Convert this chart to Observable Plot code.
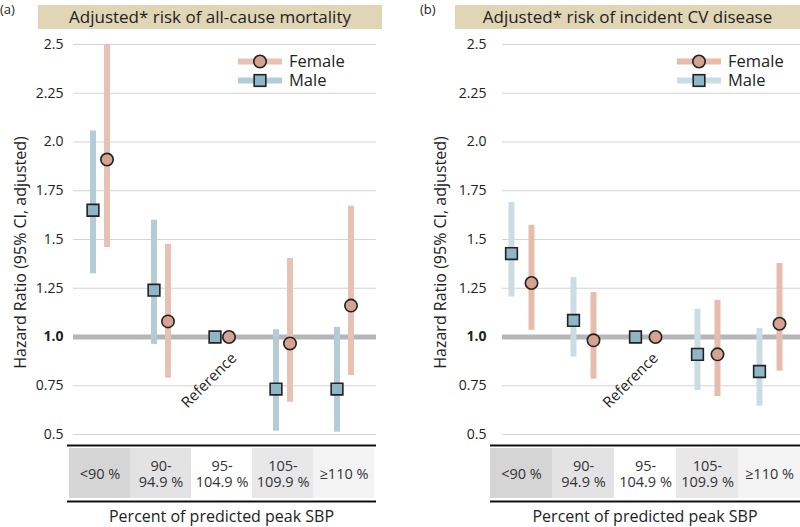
<!DOCTYPE html>
<html>
<head>
<meta charset="utf-8">
<script src="https://cdn.jsdelivr.net/npm/d3@7"></script>
<script src="https://cdn.jsdelivr.net/npm/@observablehq/plot@0.6"></script>
<style>
  html, body { margin: 0; padding: 0; background: #fff; }
  body { width: 800px; height: 527px; position: relative; overflow: hidden; font-family: "Open Sans", "Noto Sans", sans-serif; color: #222; }
  .abs { position: absolute; }
  .panel-tag { font-size: 13px; color: #222; }
  .title { background: #e0d6b6; font-size: 17px; text-align: center; line-height: 24px; height: 24px; color: #222; }
  .xlabel { font-size: 16px; text-align: center; color: #222; }
  .legend { font-size: 16px; }
</style>
</head>
<body>
<script>
// ---------- data ----------
const categories = ["<90", "90-94.9", "95-104.9", "105-109.9", "≥110"];
const categoryLabels = ["<90 %", "90-\n94.9 %", "95-\n104.9 %", "105-\n109.9 %", "≥110 %"];
const yTicks = [0.5, 0.75, 1.0, 1.25, 1.5, 1.75, 2.0, 2.25, 2.5];
const yTickLabels = ["0.5", "0.75", "1.0", "1.25", "1.5", "1.75", "2.0", "2.25", "2.5"];
const referenceCategory = "95-104.9";

// (a) all-cause mortality
const mortMaleHR   = [1.65, 1.24, 1.00, 0.733, 0.733];
const mortMaleLo   = [1.325, 0.962, null, 0.517, 0.512];
const mortMaleHi   = [2.057, 1.599, null, 1.037, 1.049];
const mortFemaleHR = [1.91, 1.08, 1.00, 0.967, 1.161];
const mortFemaleLo = [1.459, 0.789, null, 0.666, 0.803];
const mortFemaleHi = [2.50, 1.476, null, 1.402, 1.671];

// (b) incident CV disease
const cvdMaleHR   = [1.428, 1.085, 1.00, 0.911, 0.823];
const cvdMaleLo   = [1.205, 0.897, null, 0.726, 0.645];
const cvdMaleHi   = [1.690, 1.305, null, 1.142, 1.043];
const cvdFemaleHR = [1.277, 0.983, 1.00, 0.911, 1.068];
const cvdFemaleLo = [1.034, 0.784, null, 0.695, 0.825];
const cvdFemaleHi = [1.573, 1.228, null, 1.188, 1.377];

// ---------- styles ----------
const cellShades = ["#d5d5d6", "#e3e3e4", "#ffffff", "#e8e8e9", "#f3f3f4"];
const FONT = '"Open Sans", "Noto Sans", sans-serif';

function rows(hr, lo, hi) {
  return categories.map((c, i) => ({cat: c, hr: hr[i], lo: lo[i], hi: hi[i]}));
}

function addDiv(cls, style, html) {
  const d = document.createElement("div");
  d.className = "abs " + cls;
  Object.assign(d.style, style);
  d.innerHTML = html;
  document.body.appendChild(d);
  return d;
}

function panel(opts) {
  const male = rows(opts.maleHR, opts.maleLo, opts.maleHi);
  const female = rows(opts.femaleHR, opts.femaleLo, opts.femaleHi);
  const maleCI = male.filter(d => d.lo != null);
  const femaleCI = female.filter(d => d.lo != null);
  const off = opts.offset;

  const main = Plot.plot({
    width: opts.width, height: 414,
    marginLeft: opts.marginLeft, marginRight: opts.marginRight, marginTop: 14, marginBottom: 10,
    style: {fontFamily: FONT, background: "transparent", overflow: "visible"},
    x: {type: "band", domain: categories, padding: 0, axis: null},
    y: {domain: [0.5, 2.5], axis: null},
    marks: [
      Plot.ruleY(yTicks, {stroke: "#d4d4d4", strokeWidth: 1.2, insetLeft: opts.gridInset}),
      Plot.ruleY([1], {stroke: "#b6b6ba", strokeWidth: 5, insetLeft: opts.gridInset}),
      Plot.axisY(yTicks.filter(t => t !== 1), {
        tickSize: 0, tickPadding: 4, fontSize: 14, color: "#222",
        tickFormat: t => yTickLabels[yTicks.indexOf(t)], label: null
      }),
      Plot.axisY([1], {
        tickSize: 0, tickPadding: 4, fontSize: 14, fontWeight: "bold", color: "#222",
        tickFormat: t => yTickLabels[yTicks.indexOf(t)], label: null
      }),
      Plot.text(["Hazard Ratio (95% CI, adjusted)"], {
        frameAnchor: "left", textAnchor: "middle", rotate: -90, dx: opts.labelDx, dy: 13, fontSize: 16, fill: "#222"
      }),
      Plot.ruleX(maleCI, {x: "cat", y1: "lo", y2: "hi", stroke: opts.maleCI, strokeWidth: 6, dx: -off}),
      Plot.ruleX(femaleCI, {x: "cat", y1: "lo", y2: "hi", stroke: opts.femaleCI, strokeWidth: 6, dx: off}),
      Plot.dot(male, {x: "cat", y: "hr", symbol: "square", r: 6.6, fill: "#8fb6c6", stroke: "#222", strokeWidth: 1.6, dx: -off}),
      Plot.dot(female, {x: "cat", y: "hr", symbol: "circle", r: 6.2, fill: "#d6a291", stroke: "#222", strokeWidth: 1.6, dx: off}),
      Plot.text([{cat: referenceCategory, y: 0.777}], {
        x: "cat", y: "y", text: () => "Reference", rotate: -45, fontSize: 15, fill: "#222", dx: opts.refDx
      })
    ]
  });
  main.style.position = "absolute";
  main.style.left = opts.left + "px";
  main.style.top = "30px";
  document.body.appendChild(main);

  const table = Plot.plot({
    width: opts.width, height: 58,
    marginLeft: opts.marginLeft, marginRight: opts.marginRight, marginTop: 4, marginBottom: 4,
    style: {fontFamily: FONT, background: "transparent", overflow: "visible"},
    x: {type: "band", domain: categories, padding: 0, axis: null},
    y: {domain: [0, 1], range: [57, 1], axis: null},
    marks: [
      Plot.cell(categories, {x: d => d, fill: (d, i) => cellShades[i], inset: 0}),
      Plot.text(categories, {x: d => d, frameAnchor: "middle", text: (d, i) => categoryLabels[i], fontSize: 14.5, fill: "#333", lineHeight: 1.15}),
      Plot.ruleY([0, 1], {stroke: "#111", strokeWidth: 2.2})
    ]
  });
  table.style.position = "absolute";
  table.style.left = opts.left + "px";
  table.style.top = "444px";
  document.body.appendChild(table);

  // title, tag, x label
  addDiv("panel-tag", {left: opts.tagLeft + "px", top: "0px"}, opts.tag);
  addDiv("title", {left: opts.titleLeft + "px", top: "5px", width: opts.titleWidth + "px"}, opts.title);
  addDiv("xlabel", {left: (opts.left + opts.marginLeft) + "px", top: "505px",
    width: (opts.width - opts.marginLeft - opts.marginRight) + "px"}, "Percent of predicted peak SBP");

  // legend
  const lg = addDiv("legend", {left: opts.legendLeft + "px", top: "50px", width: "130px", height: "42px"}, "");
  lg.innerHTML = `
    <svg width="130" height="42" style="position:absolute;left:0;top:0;overflow:visible">
      <line x1="0" x2="44" y1="11.5" y2="11.5" stroke="${opts.femaleCI}" stroke-width="6"/>
      <circle cx="22" cy="11.5" r="6.2" fill="#d6a291" stroke="#222" stroke-width="1.6"/>
      <line x1="0" x2="44" y1="30.5" y2="30.5" stroke="${opts.maleCI}" stroke-width="6"/>
      <rect x="16.2" y="24.7" width="11.6" height="11.6" fill="#8fb6c6" stroke="#222" stroke-width="1.6"/>
      <text x="51" y="17" font-size="16.5" fill="#222" font-family='${FONT}'>Female</text>
      <text x="51" y="36" font-size="16.5" fill="#222" font-family='${FONT}'>Male</text>
    </svg>`;
}

panel({
  tag: "(a)", tagLeft: 0, title: "Adjusted* risk of all-cause mortality", titleLeft: 38, titleWidth: 344,
  left: 0, width: 390, marginLeft: 67, marginRight: 14, gridInset: 6, labelDx: -47,
  offset: 7, refDx: -13, legendLeft: 238,
  maleHR: mortMaleHR, maleLo: mortMaleLo, maleHi: mortMaleHi,
  femaleHR: mortFemaleHR, femaleLo: mortFemaleLo, femaleHi: mortFemaleHi,
  maleCI: "#b3ccd6", femaleCI: "#e6c1b4"
});

panel({
  tag: "(b)", tagLeft: 420, title: "Adjusted* risk of incident CV disease", titleLeft: 455, titleWidth: 345,
  left: 400, width: 400, marginLeft: 90, marginRight: 0, gridInset: 12, labelDx: -50,
  offset: 10, refDx: -15, legendLeft: 677,
  maleHR: cvdMaleHR, maleLo: cvdMaleLo, maleHi: cvdMaleHi,
  femaleHR: cvdFemaleHR, femaleLo: cvdFemaleLo, femaleHi: cvdFemaleHi,
  maleCI: "#cbdce3", femaleCI: "#e6bcad"
});
</script>
</body>
</html>
